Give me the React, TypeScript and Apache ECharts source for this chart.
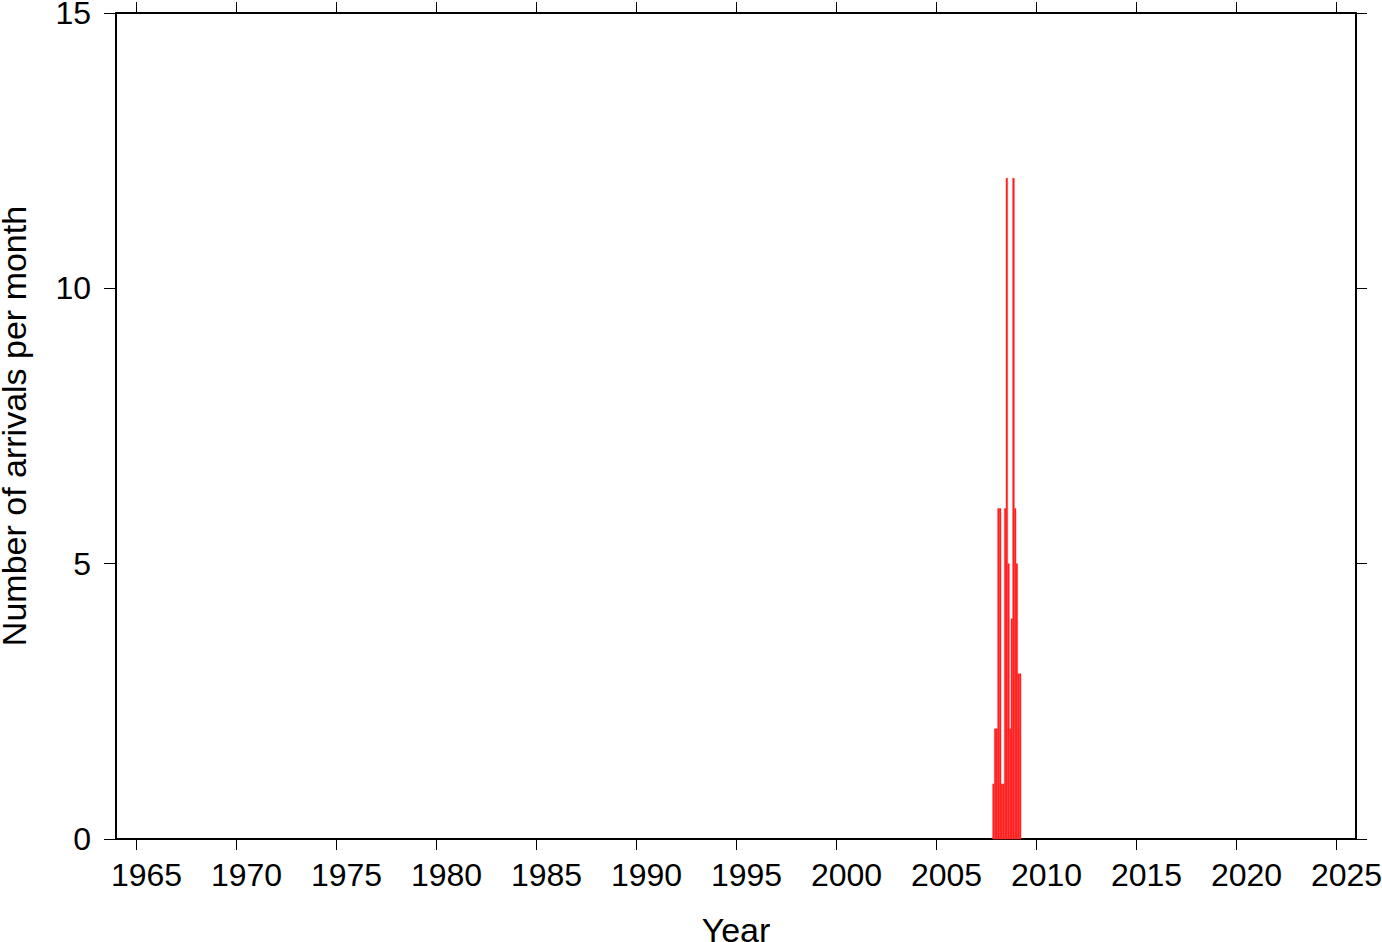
import React, { useEffect, useRef } from "react";
import * as echarts from "echarts";

const months = [
  "2007-11", "2007-12", "2008-01", "2008-02", "2008-03", "2008-04",
  "2008-05", "2008-06", "2008-07", "2008-08", "2008-09", "2008-10",
  "2008-11", "2008-12", "2009-01", "2009-02", "2009-03",
];
const counts = [1, 2, 2, 6, 6, 1, 1, 6, 12, 5, 2, 4, 12, 6, 5, 3, 3];
const yearTicks = [1965, 1970, 1975, 1980, 1985, 1990, 1995, 2000, 2005, 2010, 2015, 2020, 2025];
const countTicks = [0, 5, 10, 15];
const xMin = 1964;
const xMax = 2026;

const FONT = "'Liberation Sans', Arial, Helvetica, sans-serif";
const FS = 32;
const TFS = 34;

export default function App() {
  const ref = useRef<HTMLDivElement>(null);
  useEffect(() => {
    document.body.style.margin = "0";
    if (!ref.current) return;
    const chart = echarts.init(ref.current, undefined, { renderer: "svg" });
    const data = months.map((m, i) => {
      const [y, mo] = m.split("-").map(Number);
      const s = y + (mo - 1) / 12;
      return [s, s + 1 / 12, counts[i]];
    });
    const lineStyle = { color: "#000", width: 2 };
    const tickStyle = { color: "#000", width: 1 };
    chart.setOption({
      animation: false,
      backgroundColor: "#fff",
      grid: { left: 116, right: 26, top: 13, bottom: 103, containLabel: false, outerBoundsMode: "none" },
      xAxis: [
        {
          type: "value",
          min: xMin,
          max: xMax,
          position: "bottom",
          name: "Year",
          nameLocation: "middle",
          nameGap: 74,
          nameMoveOverlap: false,
          nameTextStyle: { fontFamily: FONT, fontSize: TFS, color: "#000" },
          axisLine: { show: true, onZero: false, lineStyle },
          axisTick: { show: true, inside: false, length: 11, customValues: yearTicks, lineStyle: tickStyle },
          axisLabel: {
            show: true,
            customValues: yearTicks,
            margin: 20,
            padding: [0, 0, 0, 21],
            fontFamily: FONT,
            fontSize: FS,
            color: "#000",
            hideOverlap: false,
            formatter: (v: number) => String(Math.round(v)),
          },
          splitLine: { show: false },
        },
        {
          type: "value",
          min: xMin,
          max: xMax,
          position: "top",
          axisLine: { show: true, onZero: false, lineStyle },
          axisTick: { show: true, inside: false, length: 11, customValues: yearTicks, lineStyle: tickStyle },
          axisLabel: { show: false },
          splitLine: { show: false },
        },
      ],
      yAxis: [
        {
          type: "value",
          min: 0,
          max: 15,
          interval: 5,
          position: "left",
          name: "Number of arrivals per month",
          nameLocation: "middle",
          nameGap: 85,
          nameMoveOverlap: false,
          nameRotate: 90,
          nameTextStyle: { fontFamily: FONT, fontSize: TFS, color: "#000" },
          axisLine: { show: true, onZero: false, lineStyle },
          axisTick: { show: true, inside: false, length: 12, customValues: countTicks, lineStyle: tickStyle },
          axisLabel: { show: true, margin: 25, fontFamily: FONT, fontSize: FS, color: "#000" },
          splitLine: { show: false },
        },
        {
          type: "value",
          min: 0,
          max: 15,
          interval: 5,
          position: "right",
          axisLine: { show: true, onZero: false, lineStyle },
          axisTick: { show: true, inside: false, length: 11, customValues: countTicks, lineStyle: tickStyle },
          axisLabel: { show: false },
          splitLine: { show: false },
        },
      ],
      series: [
        {
          type: "custom",
          xAxisIndex: 0,
          yAxisIndex: 0,
          encode: { x: [0, 1], y: 2 },
          data,
          renderItem: (params: any, api: any) => {
            const p0 = api.coord([api.value(0), api.value(2)]);
            const p1 = api.coord([api.value(1), 0]);
            return {
              type: "rect",
              shape: { x: p0[0], y: p0[1], width: p1[0] - p0[0], height: p1[1] - p0[1] },
              style: { fill: "#ff1a1a", stroke: "#ff3a3a", lineWidth: 0.5 },
            };
          },
        },
      ],
    });
    return () => chart.dispose();
  }, []);
  return <div ref={ref} style={{ width: 1382, height: 942 }} />;
}
